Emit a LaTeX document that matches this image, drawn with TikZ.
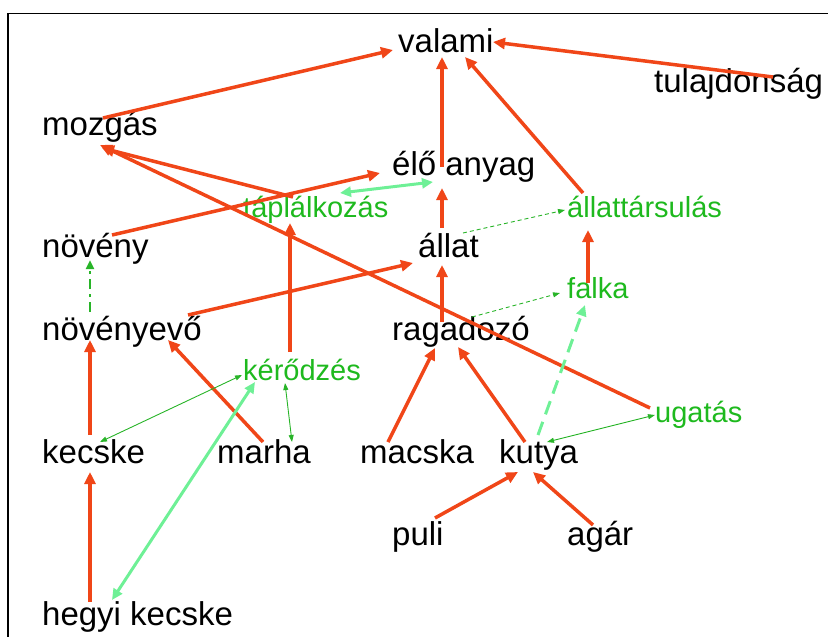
\documentclass[tikz,border=0pt]{standalone}
\usepackage{fontspec}
\setmainfont{Liberation Sans}
\usetikzlibrary{arrows.meta}
\definecolor{arred}{RGB}{240,70,24}
\definecolor{lgreen}{RGB}{110,240,150}
\definecolor{dgreen}{RGB}{40,180,40}
\definecolor{tgreen}{RGB}{30,185,30}
\tikzset{
  txt/.style={inner sep=0pt, anchor=base west, font=\fontsize{33}{40}\selectfont},
  gtxt/.style={inner sep=0pt, anchor=base west, text=tgreen, font=\fontsize{29}{35}\selectfont},
  redarr/.style={draw=arred, line width=3.5pt, -{Triangle[length=12pt,width=11pt]}},
  lgarr/.style={draw=lgreen, line width=3pt, {Triangle[length=11pt,width=10pt]}-{Triangle[length=11pt,width=10pt]}},
  lgdash/.style={draw=lgreen, line width=3pt, dash pattern=on 14pt off 8pt, -{Triangle[length=11pt,width=10pt]}},
  dgarr/.style={draw=dgreen, line width=0.9pt, {Triangle[length=7pt,width=5pt]}-{Triangle[length=7pt,width=5pt]}},
  dgdash/.style={draw=dgreen, line width=0.9pt, dash pattern=on 4pt off 3pt, -{Triangle[length=7pt,width=5pt]}},
  dgdashdot/.style={draw=dgreen, line width=2.5pt, dash pattern=on 10pt off 5pt on 3pt off 5pt, -{Triangle[length=9pt,width=8pt]}},
}
\begin{document}
\begin{tikzpicture}[x=1pt,y=-1pt]
\useasboundingbox (0,0) rectangle (828,637);
\draw[line width=1.5pt] (8,637) -- (8,13.5) -- (828,13.5);
% nodes
\node[txt] (valami) at (398,52) {valami};
\node[txt] (tul) at (654,92) {tulajdonság};
\node[txt] (mozgas) at (42,135) {mozgás};
\node[txt] (elo) at (392,175) {élő anyag};
\node[gtxt] (tap) at (243,217) {táplálkozás};
\node[gtxt] (allt) at (567,217) {állattársulás};
\node[txt] (noveny) at (42,257) {növény};
\node[txt] (allat) at (418,257) {állat};
\node[gtxt] (falka) at (567,298) {falka};
\node[txt] (novenyevo) at (42,340) {növényevő};
\node[txt] (ragadozo) at (392,340) {ragadozó};
\node[gtxt] (kerodzes) at (243,380) {kérődzés};
\node[gtxt] (ugatas) at (655,422) {ugatás};
\node[txt] (kecske) at (42,463) {kecske};
\node[txt] (marha) at (217,463) {marha};
\node[txt] (macska) at (360,463) {macska};
\node[txt] (kutya) at (499,463) {kutya};
\node[txt] (puli) at (392,545) {puli};
\node[txt] (agar) at (567,545) {agár};
\node[txt] (hegyi) at (42,625) {hegyi kecske};
% red arrows
\draw[redarr] ([shift={(61,-17)}]mozgas.base west) -- ([shift={(-5,-2)}]valami.base west);
\draw[redarr] ([shift={(119,-15)}]tul.base west) -- ([shift={(95,-10)}]valami.base west);
\draw[redarr] ([shift={(50,-8)}]elo.base west) -- ([shift={(44,5)}]valami.base west);
\draw[redarr] ([shift={(16,-24)}]allt.base west) -- ([shift={(67,5)}]valami.base west);
\draw[redarr] ([shift={(24,-29)}]allat.base west) -- ([shift={(50,13)}]elo.base west);
\draw[redarr] ([shift={(21,-15)}]falka.base west) -- ([shift={(21,13)}]allt.base west);
\draw[redarr] ([shift={(50,-18)}]ragadozo.base west) -- ([shift={(24,8)}]allat.base west);
\draw[redarr] ([shift={(70,-22)}]noveny.base west) -- ([shift={(-12,-2)}]elo.base west);
\draw[redarr] ([shift={(47,-28)}]kerodzes.base west) -- ([shift={(47,6)}]tap.base west);
\draw[redarr] ([shift={(-5,-14)}]ugatas.base west) -- ([shift={(58,10)}]mozgas.base west);
\draw[redarr] ([shift={(50,-20)}]tap.base west) -- ([shift={(60,13)}]mozgas.base west);
\draw[redarr] ([shift={(146,-25)}]novenyevo.base west) -- ([shift={(-5,6)}]allat.base west);
\draw[redarr] ([shift={(46,-21)}]marha.base west) -- ([shift={(126,0)}]novenyevo.base west);
\draw[redarr] ([shift={(48,-28)}]kecske.base west) -- ([shift={(48,0)}]novenyevo.base west);
\draw[redarr] ([shift={(48,-23)}]hegyi.base west) -- ([shift={(48,9)}]kecske.base west);
\draw[redarr] ([shift={(28,-21)}]macska.base west) -- ([shift={(43,8)}]ragadozo.base west);
\draw[redarr] ([shift={(26,-21)}]kutya.base west) -- ([shift={(66,7)}]ragadozo.base west);
\draw[redarr] ([shift={(43,-27)}]puli.base west) -- ([shift={(19,9)}]kutya.base west);
\draw[redarr] ([shift={(26,-20)}]agar.base west) -- ([shift={(34,9)}]kutya.base west);
% green arrows
\draw[lgarr] ([shift={(97,-24)}]tap.base west) -- ([shift={(41,7)}]elo.base west);
\draw[lgarr] ([shift={(12,2)}]kerodzes.base west) -- ([shift={(70,-25)}]hegyi.base west);
\draw[lgdash] ([shift={(39,-28)}]kutya.base west) -- ([shift={(18,7)}]falka.base west);
\draw[dgarr] ([shift={(58,-21)}]kecske.base west) -- ([shift={(-1,-5)}]kerodzes.base west);
\draw[dgarr] ([shift={(42,3)}]kerodzes.base west) -- ([shift={(75,-21)}]marha.base west);
\draw[dgarr] ([shift={(0,-7)}]ugatas.base west) -- ([shift={(48,-21)}]kutya.base west);
\draw[dgdash] ([shift={(45,-24)}]allat.base west) -- ([shift={(-2,-7)}]allt.base west);
\draw[dgdash] ([shift={(80,-23)}]ragadozo.base west) -- ([shift={(-7,-5)}]falka.base west);
\draw[dgdashdot] ([shift={(48,-28)}]novenyevo.base west) -- ([shift={(48,3)}]noveny.base west);
\end{tikzpicture}
\end{document}
